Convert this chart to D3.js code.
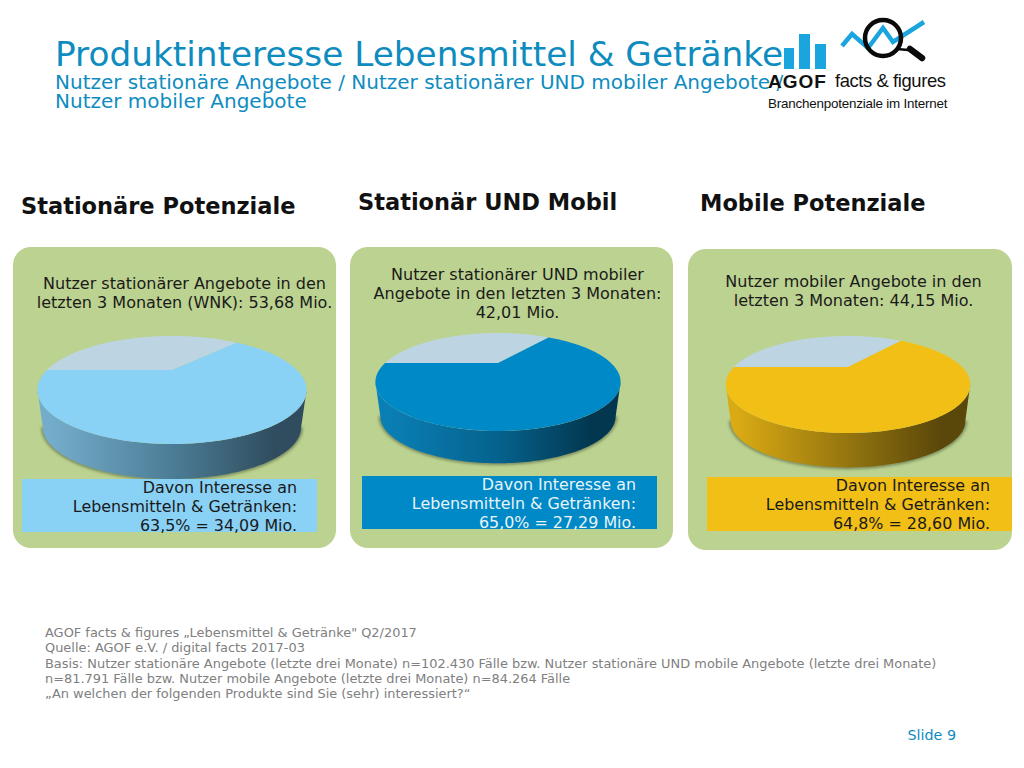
<!DOCTYPE html>
<html>
<head>
<meta charset="utf-8">
<script src="https://cdnjs.cloudflare.com/ajax/libs/d3/7.8.5/d3.min.js"></script>
<style>
  html, body { margin: 0; padding: 0; background: #fff; }
  svg { display: block; }
  text { font-family: "DejaVu Sans", sans-serif; }
</style>
</head>
<body>
<svg id="chart" width="1024" height="768"></svg>
<script>
const categories = ["Stationäre Potenziale", "Stationär UND Mobil", "Mobile Potenziale"];
const shares = [63.5, 65.0, 64.8];
const interested = [34.09, 27.29, 28.6];
const introLines = [
  ["Nutzer stationärer Angebote in den", "letzten 3 Monaten (WNK): 53,68 Mio."],
  ["Nutzer stationärer UND mobiler", "Angebote in den letzten 3 Monaten:", "42,01 Mio."],
  ["Nutzer mobiler Angebote in den", "letzten 3 Monaten: 44,15 Mio."],
];
const footerLines = [
  "AGOF facts & figures „Lebensmittel & Getränke\" Q2/2017",
  "Quelle: AGOF e.V. / digital facts 2017-03",
  "Basis: Nutzer stationäre Angebote (letzte drei Monate) n=102.430 Fälle bzw. Nutzer stationäre UND mobile Angebote (letzte drei Monate)",
  "n=81.791 Fälle bzw. Nutzer mobile Angebote (letzte drei Monate) n=84.264 Fälle",
  "„An welchen der folgenden Produkte sind Sie (sehr) interessiert?“",
];

// layout of the three columns
const panels = [
  { x: 13, y: 247, w: 323, h: 301, headX: 21, headY: 214, introX: 184.5, introY: 289,
    cx: 172, cy: 370, R: 125, H: 46.6, k: 0.37, drop: 38, boxX: 22, boxY: 479, boxW: 295, boxH: 53, textX: 297, textY: 493 },
  { x: 350, y: 247, w: 323, h: 301, headX: 358, headY: 210, introX: 517.5, introY: 280,
    cx: 498, cy: 363, R: 113, H: 41.6, k: 0.388, drop: 35, boxX: 362, boxY: 476, boxW: 295, boxH: 53, textX: 636, textY: 490 },
  { x: 688, y: 249, w: 324, h: 301, headX: 700, headY: 211, introX: 853.5, introY: 287,
    cx: 848, cy: 367, R: 114, H: 42.2, k: 0.361, drop: 37, boxX: 707, boxY: 477, boxW: 305, boxH: 54, textX: 990, textY: 491 },
];
const sliceColors = ["#89d1f5", "#0089c7", "#f2bf17"];
const sideColors = [["#74adcb", "#4c7d96", "#2f4d5e"], ["#0a7fb5", "#05628d", "#03374f"], ["#d9aa14", "#94750f", "#5a470a"]];
const textColors = ["#1a1a1a", "#e8f4fa", "#1a1a1a"];
const restColor = "#bdd5e3";
const panelColor = "#bcd290";

const svg = d3.select("#chart");
const defs = svg.append("defs");
const numberFormat = d3.formatLocale({ decimal: ",", thousands: ".", grouping: [3], currency: ["", "€"] });
const pct = numberFormat.format(".1f");
const mio = numberFormat.format(".2f");

defs.append("filter").attr("id", "soft")
  .attr("x", "-10%").attr("y", "-10%").attr("width", "120%").attr("height", "130%")
  .append("feGaussianBlur").attr("stdDeviation", 1.5);

sideColors.forEach((stops, i) => {
  const grad = defs.append("linearGradient").attr("id", `side${i}`);
  stops.forEach((c, j) => grad.append("stop").attr("offset", `${[5, 50, 88][j]}%`).attr("stop-color", c));
});

// title
svg.append("text").attr("x", 55).attr("y", 66).attr("font-size", 34.3).attr("fill", "#0e8cc0")
  .text("Produktinteresse Lebensmittel & Getränke");
svg.append("text").attr("x", 55).attr("y", 89).attr("font-size", 20).attr("fill", "#0e8cc0")
  .text("Nutzer stationäre Angebote / Nutzer stationärer UND mobiler Angebote /");
svg.append("text").attr("x", 55).attr("y", 108).attr("font-size", 20).attr("fill", "#0e8cc0")
  .text("Nutzer mobiler Angebote");

// perspective view of the round pie: angle 0 is the far side, clockwise
function project(p, angle, level) {
  const scale = level ? 0.96 : 1;
  const z = Math.cos(angle);
  const s = scale / (1 + p.k * z);
  return [p.cx + p.R * Math.sin(angle) * s, p.cy + level * p.drop - p.H * z * s];
}

function rimAngles(a0, a1) {
  return d3.range(0, 121).map((i) => a0 + (a1 - a0) * i / 120);
}

const line = d3.line();
const pie = d3.pie().sort(null).startAngle(-Math.PI / 2).endAngle(Math.PI * 1.5);

panels.forEach((p, i) => {
  const g = svg.append("g");

  g.append("rect").attr("x", p.x).attr("y", p.y).attr("width", p.w).attr("height", p.h)
    .attr("rx", 18).attr("fill", panelColor);

  g.append("text").attr("x", p.headX).attr("y", p.headY).attr("font-size", 22.5)
    .attr("font-weight", "bold").attr("fill", "#111").text(categories[i]);

  g.selectAll(".intro").data(introLines[i]).enter().append("text")
    .attr("class", "intro")
    .attr("x", p.introX).attr("y", (d, j) => p.introY + j * 19)
    .attr("text-anchor", "middle").attr("font-size", 16).attr("fill", "#1a1a1a").text((d) => d);

  // wall of the pie, between the two points where the rim turns back
  const turn = Math.acos(-p.k);
  const front = rimAngles(turn, 2 * Math.PI - turn);
  const wall = front.map((a) => project(p, a, 0)).concat(front.slice().reverse().map((a) => project(p, a, 1)));
  g.append("path").attr("d", line(front.map((a) => project(p, a, 1))))
    .attr("fill", "none").attr("stroke", "#4a5a3a").attr("stroke-opacity", 0.7)
    .attr("stroke-width", 3).attr("filter", "url(#soft)");
  g.append("path").attr("d", line(wall) + "Z").attr("fill", `url(#side${i})`);

  const slices = pie([100 - shares[i], shares[i]]);
  g.selectAll(".slice").data(slices).enter().append("path")
    .attr("class", "slice")
    .attr("d", (d) => line([[p.cx, p.cy]].concat(rimAngles(d.startAngle, d.endAngle).map((a) => project(p, a, 0)))) + "Z")
    .attr("fill", (d, j) => (j === 0 ? restColor : sliceColors[i]));

  g.append("rect").attr("x", p.boxX).attr("y", p.boxY).attr("width", p.boxW).attr("height", p.boxH)
    .attr("fill", sliceColors[i]);

  const boxLines = ["Davon Interesse an", "Lebensmitteln & Getränken:", `${pct(shares[i])}% = ${mio(interested[i])} Mio.`];
  g.selectAll(".box").data(boxLines).enter().append("text")
    .attr("class", "box")
    .attr("x", p.textX).attr("y", (d, j) => p.textY + j * 19)
    .attr("text-anchor", "end").attr("font-size", 15.9).attr("fill", textColors[i]).text((d) => d);
});

// footer
svg.selectAll(".foot").data(footerLines).enter().append("text")
  .attr("class", "foot")
  .attr("x", 45).attr("y", (d, i) => 637 + i * 15.3)
  .attr("font-size", 12.93).attr("fill", "#808080").text((d) => d);
svg.append("text").attr("x", 956).attr("y", 740).attr("text-anchor", "end")
  .attr("font-size", 14.3).attr("fill", "#0e8cc0").text("Slide 9");

// AGOF logo
const logo = svg.append("g");
[[784, 48, 10], [799, 34, 11], [815, 44, 11]].forEach((b) => {
  logo.append("rect").attr("x", b[0]).attr("y", b[1]).attr("width", b[2]).attr("height", 69 - b[1])
    .attr("fill", "#1ba5de");
});
logo.append("path")
  .attr("d", line([[842, 46], [852, 34], [868, 48], [883, 28], [893, 42], [924, 22]]))
  .attr("fill", "none").attr("stroke", "#1ba5de").attr("stroke-width", 4.5);
logo.append("circle").attr("cx", 883).attr("cy", 38).attr("r", 18)
  .attr("fill", "none").attr("stroke", "#0a0a0a").attr("stroke-width", 4.5);
logo.append("path").attr("d", line([[897, 49], [908, 50]]))
  .attr("stroke", "#0a0a0a").attr("stroke-width", 2.5);
logo.append("path").attr("d", line([[910, 49], [922, 58]]))
  .attr("stroke", "#0a0a0a").attr("stroke-width", 6.5).attr("stroke-linecap", "round");
logo.append("text").attr("x", 768).attr("y", 88).attr("font-size", 19).attr("font-weight", "bold")
  .attr("letter-spacing", 1).attr("fill", "#111").style("font-family", "'Liberation Sans'").text("AGOF");
logo.append("text").attr("x", 835).attr("y", 87).attr("font-size", 18.4)
  .attr("letter-spacing", -0.4).attr("fill", "#111").style("font-family", "'Liberation Sans'").text("facts & figures");
logo.append("text").attr("x", 768).attr("y", 108).attr("font-size", 13.4)
  .attr("letter-spacing", -0.2).attr("fill", "#111").style("font-family", "'Liberation Sans'").text("Branchenpotenziale im Internet");
</script>
</body>
</html>
